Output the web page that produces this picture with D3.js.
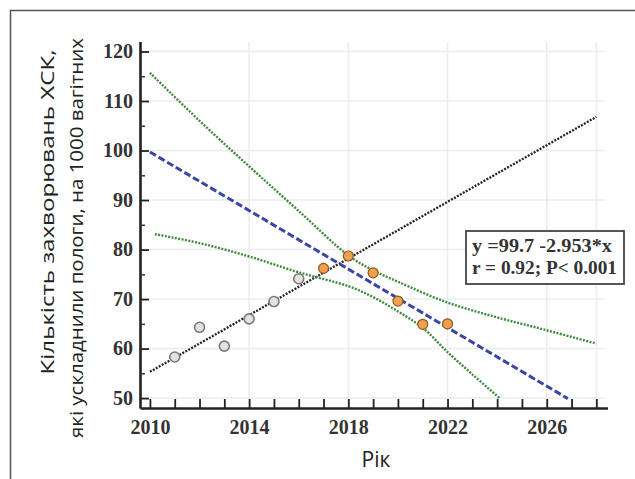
<!DOCTYPE html>
<html>
<head>
<meta charset="utf-8">
<script src="https://cdn.jsdelivr.net/npm/d3@7"></script>
<style>
  html, body { margin: 0; padding: 0; background: #fff; }
  svg { display: block; }
</style>
</head>
<body>
<div id="chart"></div>
<script>
// observed incidence, 2011-2016 (grey) and 2017-2022 (orange)
const pastYears = [2011, 2012, 2013, 2014, 2015, 2016]
const pastValues = [58.3, 64.3, 60.5, 66.0, 69.5, 74.1]
const recentYears = [2017, 2018, 2019, 2020, 2021, 2022]
const recentValues = [76.2, 78.7, 75.3, 69.6, 64.9, 65.0]

// black dotted trend of the early years
const trendYears = [2010, 2028]
const trendValues = [55.3, 106.8]

// blue dashed regression line
const fitYears = [2010, 2026.85]
const fitValues = [99.7, 49.9]

// green dotted confidence bounds
const upperYears = [2010, 2012, 2014, 2016, 2018, 2019, 2020, 2022, 2024, 2026, 2028]
const upperValues = [115.7, 106, 96.8, 87.8, 78.8, 75.8, 73.5, 69.3, 66.3, 63.7, 61]
const lowerYears = [2010.2, 2012, 2014, 2016, 2018, 2019, 2020, 2021, 2022, 2023, 2024.1]
const lowerValues = [83.1, 81.3, 78.6, 75.4, 72.6, 70.4, 67.5, 64.2, 59.3, 54.8, 50]

const yTicks = [50, 60, 70, 80, 90, 100, 110, 120]
const yMinorTicks = [55, 65, 75, 85, 95, 105, 115]
const xLabels = [2010, 2014, 2018, 2022, 2026]
const xGrid = [2014, 2018, 2022, 2026, 2028]

const yTitle = ["Кількість захворювань ХСК,", "які ускладнили пологи, на 1000 вагітних"]
const xTitle = "Рік"
const legendLines = ["y =99.7 -2.953*x", "r = 0.92; P< 0.001"]

const width = 635
const height = 479

const svg = d3.select("#chart")
    .append("svg")
    .attr("width", width)
    .attr("height", height)

const x = d3.scaleLinear().domain([2009.6, 2028.45]).range([140, 607.5])
const y = d3.scaleLinear().domain([48, 122]).range([408, 41.6])

const serif = "'Liberation Serif', 'Times New Roman', serif"
const sans = "'Open Sans', 'Noto Sans', sans-serif"

// outer frame (top + left only)
svg.append("path")
    .attr("d", `M10.5,${height} V10.5 H${width}`)
    .attr("fill", "none")
    .attr("stroke", "#555")
    .attr("stroke-width", 1.5)

// faint grid
svg.append("g").selectAll("line")
    .data(yTicks)
    .enter().append("line")
    .attr("x1", 140).attr("x2", 605)
    .attr("y1", d => y(d)).attr("y2", d => y(d))
    .attr("stroke", "#ececec")
    .attr("stroke-width", 1.5)

svg.append("g").selectAll("line")
    .data(xGrid)
    .enter().append("line")
    .attr("x1", d => x(d)).attr("x2", d => x(d))
    .attr("y1", 42).attr("y2", 408)
    .attr("stroke", "#ececec")
    .attr("stroke-width", 1.5)

const line = d3.line().x(d => x(d[0])).y(d => y(d[1]))
const curve = d3.line().curve(d3.curveCatmullRom).x(d => x(d[0])).y(d => y(d[1]))

const pairs = (xs, ys) => xs.map((v, i) => [v, ys[i]])

svg.append("path")
    .datum(pairs(trendYears, trendValues))
    .attr("d", line)
    .attr("fill", "none")
    .attr("stroke", "#222")
    .attr("stroke-width", 2.3)
    .attr("stroke-dasharray", "2,1.4")

svg.append("path")
    .datum(pairs(upperYears, upperValues))
    .attr("d", curve)
    .attr("fill", "none")
    .attr("stroke", "#3f8a3c")
    .attr("stroke-width", 2.4)
    .attr("stroke-dasharray", "2,1.4")

svg.append("path")
    .datum(pairs(lowerYears, lowerValues))
    .attr("d", curve)
    .attr("fill", "none")
    .attr("stroke", "#3f8a3c")
    .attr("stroke-width", 2.4)
    .attr("stroke-dasharray", "2,1.4")

svg.append("path")
    .datum(pairs(fitYears, fitValues))
    .attr("d", line)
    .attr("fill", "none")
    .attr("stroke", "#3b45a6")
    .attr("stroke-width", 3)
    .attr("stroke-dasharray", "7,3")

// points
svg.append("g").selectAll("circle")
    .data(pairs(pastYears, pastValues))
    .enter().append("circle")
    .attr("cx", d => x(d[0]))
    .attr("cy", d => y(d[1]))
    .attr("r", 5)
    .attr("fill", "#e2e2e2")
    .attr("stroke", "#7a7a7a")
    .attr("stroke-width", 1.6)

svg.append("g").selectAll("circle")
    .data(pairs(recentYears, recentValues))
    .enter().append("circle")
    .attr("cx", d => x(d[0]))
    .attr("cy", d => y(d[1]))
    .attr("r", 5)
    .attr("fill", "#f0a04c")
    .attr("stroke", "#8a5a22")
    .attr("stroke-width", 1.2)

// axes
const xAxis = svg.append("g")
    .attr("transform", "translate(0,408)")
    .call(d3.axisBottom(x)
        .tickValues(d3.range(2010, 2029))
        .tickFormat(d => xLabels.includes(d) ? d : "")
        .tickSizeInner(-9)
        .tickSizeOuter(0)
        .tickPadding(12))

const yAxis = svg.append("g")
    .attr("transform", "translate(140,0)")
    .call(d3.axisLeft(y)
        .tickValues(yTicks)
        .tickSizeInner(-9)
        .tickSizeOuter(0)
        .tickPadding(7))

svg.append("g")
    .attr("transform", "translate(140,0)")
    .call(d3.axisLeft(y)
        .tickValues(yMinorTicks)
        .tickFormat("")
        .tickSizeInner(-5)
        .tickSizeOuter(0))
    .call(g => g.select(".domain").remove())
    .selectAll("line")
    .attr("stroke", "#333")
    .attr("stroke-width", 1.5)

for (const g of [xAxis, yAxis]) {
    g.select(".domain").attr("stroke", "#222").attr("stroke-width", 2.6)
    g.selectAll(".tick line").attr("stroke", "#222").attr("stroke-width", 1.8)
    g.selectAll(".tick text")
        .attr("font-family", serif)
        .attr("font-weight", "bold")
        .attr("font-size", 20)
        .attr("fill", "#333")
}

// axis titles
const titleX = [48, 77]
const titleY = [212, 238]
const titleLen = [325, 400]
yTitle.forEach((t, i) => {
    svg.append("text")
        .attr("transform", `translate(${titleX[i]},${titleY[i]}) rotate(-90)`)
        .attr("text-anchor", "middle")
        .attr("dy", "0.35em")
        .attr("font-family", sans)
        .attr("font-size", 18)
        .attr("fill", "#222")
        .attr("textLength", titleLen[i])
        .attr("lengthAdjust", "spacingAndGlyphs")
        .text(t)
})

svg.append("text")
    .attr("x", 376)
    .attr("y", 467)
    .attr("text-anchor", "middle")
    .attr("font-family", sans)
    .attr("font-size", 21)
    .attr("fill", "#222")
    .text(xTitle)

// legend box
const legend = svg.append("g")
legend.append("rect")
    .attr("x", 466).attr("y", 231)
    .attr("width", 158).attr("height", 53)
    .attr("fill", "#fff")
    .attr("stroke", "#444")
    .attr("stroke-width", 1.8)

const legendLen = [140, 145]
legendLines.forEach((t, i) => {
    legend.append("text")
        .attr("x", 472)
        .attr("y", 251.5 + i * 22)
        .attr("font-family", serif)
        .attr("font-weight", "bold")
        .attr("font-size", 19)
        .attr("fill", "#333")
        .attr("textLength", legendLen[i])
        .attr("lengthAdjust", "spacingAndGlyphs")
        .text(t)
})
</script>
</body>
</html>
